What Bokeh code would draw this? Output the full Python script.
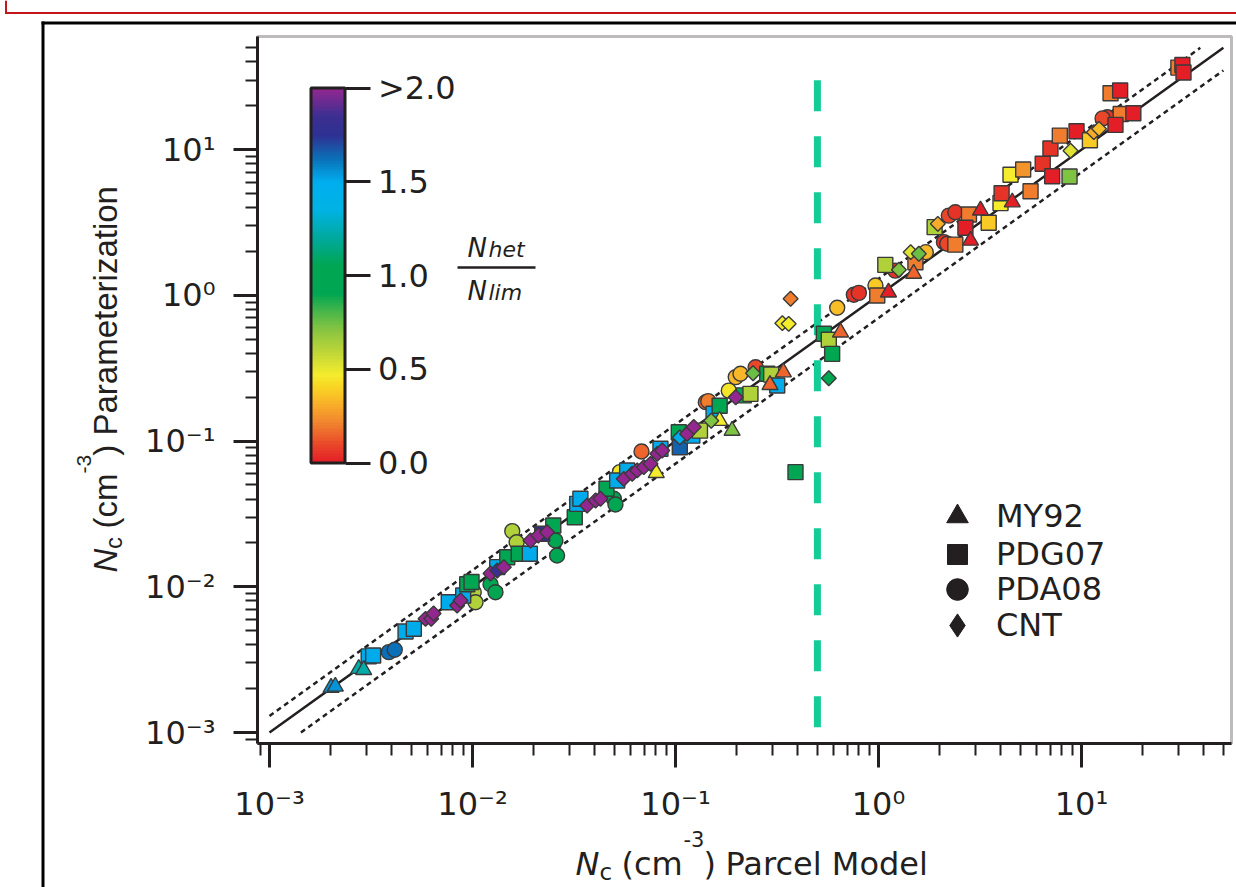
import math
from bokeh.plotting import figure
from bokeh.models import (Range1d, FixedTicker, CustomJSTickFormatter, ColumnDataSource,
                          LinearColorMapper, ColorBar, Legend, LegendItem, Label, BoxAnnotation,
                          LogAxis)
from bokeh.embed import file_html
from bokeh.resources import INLINE

# ---------------- data (Nc parcel model, Nc parameterization, Nhet/Nlim) ----------------
my92_x = [0.00201, 0.00211, 0.00275, 0.00291, 0.0804, 0.165, 0.190, 0.292, 0.340, 0.650,
          1.12, 1.49, 2.84, 3.18, 4.56]
my92_y = [0.00203, 0.00207, 0.00274, 0.00269, 0.0605, 0.138, 0.118, 0.243, 0.297, 0.558,
          1.05, 1.41, 2.38, 3.83, 4.36]
my92_r = [1.55, 1.55, 1.22, 1.22, 0.47, 0.47, 0.72, 0.15, 0.15, 0.15,
          0.0, 0.15, 0.0, 0.0, 0.0]

pdg07_x = [0.00308, 0.00324, 0.00468, 0.00514, 0.00764, 0.00900, 0.00942, 0.00989, 0.01324, 0.01483,
           0.0169, 0.01916, 0.02205, 0.0250, 0.0319, 0.0328, 0.0340, 0.0457, 0.0516, 0.0578,
           0.0843, 0.105, 0.1038, 0.121, 0.132, 0.154, 0.165, 0.217, 0.234, 0.283,
           0.296, 0.317, 0.390, 0.538, 0.569, 0.591, 0.986, 1.08, 1.52, 2.39,
           1.89, 2.79, 2.68, 3.49, 3.99, 4.04, 5.61, 4.47, 5.16, 6.44,
           7.17, 8.73, 7.03, 7.82, 9.45, 11.0, 15.6, 14.7, 18.0, 13.9,
           15.5, 30.0, 31.4, 31.8]
pdg07_y = [0.00333, 0.00338, 0.00493, 0.00515, 0.00784, 0.00871, 0.0104, 0.0108, 0.01364, 0.01597,
           0.01685, 0.01685, 0.0231, 0.02635, 0.0300, 0.0371, 0.0402, 0.0471, 0.0537, 0.0629,
           0.0886, 0.0908, 0.115, 0.109, 0.118, 0.154, 0.175, 0.206, 0.211, 0.290,
           0.286, 0.241, 0.0612, 0.545, 0.496, 0.397, 0.998, 1.62, 1.69, 2.23,
           2.94, 3.59, 2.91, 3.15, 4.30, 5.03, 5.19, 6.73, 7.31, 8.0,
           6.58, 6.55, 10.2, 12.5, 13.4, 11.6, 17.6, 14.8, 17.8, 24.4,
           25.5, 36.6, 38.1, 33.9]
pdg07_r = [1.5, 1.5, 1.5, 1.5, 1.5, 1.5, 1.0, 1.0, 1.5, 1.0,
           1.0, 1.5, 1.78, 1.0, 1.0, 1.5, 1.5, 1.0, 1.5, 1.5,
           1.5, 1.65, 1.0, 1.5, 0.62, 1.5, 1.0, 1.0, 0.62, 1.0,
           0.62, 1.5, 1.0, 1.0, 0.62, 0.95, 0.2, 0.62, 0.2, 0.2,
           0.62, 0.2, 0.0, 0.38, 0.47, 0.05, 0.2, 0.47, 0.25, 0.05,
           0.0, 0.72, 0.05, 0.2, 0.0, 0.38, 0.2, 0.0, 0.0, 0.2,
           0.0, 0.2, 0.0, 0.0]

pda08_x = [0.00387, 0.00414, 0.01014, 0.01035, 0.01227, 0.01298, 0.0157, 0.0165, 0.0256, 0.0261,
           0.0497, 0.0506, 0.0532, 0.0680, 0.141, 0.145, 0.183, 0.198, 0.209, 0.248,
           0.626, 0.756, 0.80, 0.966, 1.21, 1.71, 2.10, 2.18, 2.22, 2.39,
           13.4, 12.7]
pda08_y = [0.00356, 0.0037, 0.00918, 0.00784, 0.0104, 0.00918, 0.0241, 0.0202, 0.0208, 0.0164,
           0.0402, 0.0367, 0.0612, 0.0849, 0.185, 0.188, 0.222, 0.275, 0.290, 0.321,
           0.822, 1.01, 1.04, 1.17, 1.48, 1.98, 2.32, 2.26, 3.53, 3.72,
           16.7, 16.4]
pda08_r = [1.62, 1.62, 0.62, 0.62, 0.92, 0.92, 0.62, 0.62, 0.9, 0.9,
           0.95, 0.95, 0.45, 0.15, 0.15, 0.2, 0.45, 0.33, 0.33, 0.1,
           0.35, 0.05, 0.05, 0.38, 0.05, 0.33, 0.05, 0.1, 0.1, 0.05,
           0.05, 0.1]

cnt_x = [0.00587, 0.00626, 0.00643, 0.0084, 0.00873, 0.01227, 0.01324, 0.01426, 0.0193, 0.0211,
         0.0233, 0.0367, 0.0404, 0.0427, 0.0556, 0.0612, 0.0648, 0.0698, 0.0753, 0.0813,
         0.0860, 0.105, 0.114, 0.123, 0.150, 0.198, 0.241, 0.369, 0.336, 0.361,
         0.569, 1.26, 1.44, 1.58, 1.96, 8.83, 11.5, 12.2]
cnt_y = [0.00603, 0.00603, 0.00656, 0.00744, 0.00805, 0.01234, 0.01294, 0.01364, 0.0208, 0.0225,
         0.0237, 0.0361, 0.0391, 0.0402, 0.0551, 0.0597, 0.0629, 0.0662, 0.0698, 0.0818,
         0.0862, 0.106, 0.112, 0.125, 0.138, 0.200, 0.292, 0.948, 0.645, 0.638,
         0.270, 1.50, 1.98, 1.93, 3.10, 9.83, 13.2, 13.9]
cnt_r = [2.0, 2.0, 2.0, 2.0, 2.0, 2.0, 1.85, 2.0, 2.0, 2.0,
         2.0, 2.0, 2.0, 2.0, 2.0, 2.0, 2.0, 2.0, 2.0, 2.0,
         2.0, 1.5, 2.0, 2.0, 0.72, 2.0, 0.75, 0.2, 0.47, 0.47,
         0.92, 0.72, 0.52, 0.75, 0.3, 0.52, 0.3, 0.35]

scheme_names = ["MY92", "PDG07", "PDA08", "CNT"]
decade_ticks = [1e-3, 1e-2, 1e-1, 1e0, 1e1]
cbar_ticks = [0.0, 0.5, 1.0, 1.5, 2.0]

# plotted box (axis extents)
x_box = (8.727e-4, 54.8)
y_box = (8.405e-4, 59.8)

# reference lines: 1:1 and +/-30 %
line_min, line_max = 1e-3, 50.0
upper_factor, lower_factor = 1.3, 0.7
threshold_x = 0.5
threshold_y = [30.0, 1.07e-3]

# ---------------- style ----------------
FONT = "DejaVu Sans"
VFONT = "Liberation Sans"
INK = "#231f20"
W, H = 1236, 887
anchors = [(0.00, "#e31e26"), (0.10, "#ea4a2a"), (0.20, "#f07f2e"), (0.30, "#f8ab2a"),
           (0.40, "#f9d423"), (0.47, "#f4ec2d"), (0.60, "#b9d439"), (0.70, "#8bc640"),
           (0.80, "#4db74a"), (0.90, "#00a651"), (1.05, "#00a651"), (1.20, "#00a99d"),
           (1.35, "#00b3e3"), (1.50, "#00aeef"), (1.62, "#0a72b8"), (1.75, "#2e3192"),
           (1.85, "#3b2f91"), (2.00, "#93278f")]


def _rgb(h):
    return tuple(int(h[i:i + 2], 16) for i in (1, 3, 5))


palette = []
for i in range(256):
    v = 2.0 * i / 255
    for (a, ca), (b, cb) in zip(anchors[:-1], anchors[1:]):
        if a <= v <= b:
            t = (v - a) / (b - a) if b > a else 0
            r1, r2 = _rgb(ca), _rgb(cb)
            palette.append("#%02x%02x%02x" % tuple(int(round(r1[k] + (r2[k] - r1[k]) * t)) for k in range(3)))
            break

mapper = LinearColorMapper(palette=palette, low=0, high=2)

# ---------------- figure: frame spans the whole canvas, axes sit at fixed locations ----------------
p = figure(width=W, height=H, x_axis_type="log", y_axis_type="log",
           x_range=Range1d(10 ** -4.3251, 10 ** 1.7635), y_range=Range1d(10 ** -4.0638, 10 ** 2.0240),
           x_axis_location=None, y_axis_location=None,
           output_backend="svg", toolbar_location=None,
           min_border=0, min_border_left=0, min_border_right=0, min_border_top=0, min_border_bottom=0)
p.title.visible = False
p.grid.visible = False
p.outline_line_color = None
p.background_fill_color = "white"
p.border_fill_color = "white"

minor = [m * 10.0 ** e for e in range(-4, 2) for m in range(2, 10)]
sup_code = """
const sup = {"-": "\u207b", "0": "\u2070", "1": "\u00b9", "2": "\u00b2", "3": "\u00b3",
             "4": "\u2074", "5": "\u2075", "6": "\u2076", "7": "\u2077", "8": "\u2078", "9": "\u2079"};
const e = Math.round(Math.log10(tick));
return "10" + String(e).split("").map(c => sup[c]).join("");
"""
xaxis = LogAxis(fixed_location=y_box[0], bounds=x_box)
yaxis = LogAxis(fixed_location=x_box[0], bounds=y_box)
for ax, (lo, hi) in ((xaxis, x_box), (yaxis, y_box)):
    ax.ticker = FixedTicker(ticks=decade_ticks, minor_ticks=[m for m in minor if lo < m < hi])
    ax.formatter = CustomJSTickFormatter(code=sup_code)
    ax.major_tick_in = 0
    ax.major_tick_out = 24
    ax.minor_tick_in = 0
    ax.minor_tick_out = 12
    ax.major_tick_line_width = 3
    ax.minor_tick_line_width = 2
    ax.major_tick_line_color = INK
    ax.minor_tick_line_color = INK
    ax.axis_line_color = INK
    ax.axis_line_width = 3
    ax.major_label_text_font = FONT
    ax.major_label_text_font_size = "32px"
    ax.major_label_text_color = INK
    ax.major_label_standoff = 18
p.add_layout(xaxis, "below")
p.add_layout(yaxis, "left")

# plot box outline
p.add_layout(BoxAnnotation(left=257, right=1231, bottom=H - 743, top=H - 36,
                           left_units="screen", right_units="screen", bottom_units="screen",
                           top_units="screen", fill_alpha=0, line_color=INK, line_width=3))

# reference lines
p.line([line_min, line_max], [line_min, line_max], line_color=INK, line_width=2.5)
p.line([line_min, line_max / upper_factor], [line_min * upper_factor, line_max],
       line_color=INK, line_width=2.5, line_dash="5 4")
p.line([line_min / lower_factor, line_max], [line_min, line_max * lower_factor],
       line_color=INK, line_width=2.5, line_dash="5 4")
p.line([threshold_x, threshold_x], threshold_y, line_color="#14cc96", line_width=7,
       line_dash="31 25")

# scatter points
common = dict(line_color="#3a3a3a", line_width=1.4, fill_alpha=1)
p.scatter("x", "y", source=ColumnDataSource(dict(x=pda08_x, y=pda08_y, r=pda08_r)),
          marker="circle", size=15, fill_color={"field": "r", "transform": mapper}, **common)
p.scatter("x", "y", source=ColumnDataSource(dict(x=pdg07_x, y=pdg07_y, r=pdg07_r)),
          marker="square", size=15, fill_color={"field": "r", "transform": mapper}, **common)
p.scatter("x", "y", source=ColumnDataSource(dict(x=my92_x, y=my92_y, r=my92_r)),
          marker="triangle", size=16, fill_color={"field": "r", "transform": mapper}, **common)
p.scatter("x", "y", source=ColumnDataSource(dict(x=cnt_x, y=cnt_y, r=cnt_r)),
          marker="square", angle=math.pi / 4, size=10.5,
          fill_color={"field": "r", "transform": mapper}, **common)

# legend (black symbols); glyph box G -> marker size 0.4*G
legend_specs = [("triangle", 54, 516), ("square", 50, 554),
                ("circle", 54, 589), ("diamond", 58, 625)]
nan = float("nan")
for name, (mk, G, cy) in zip(scheme_names, legend_specs):
    r = p.scatter(x=[nan], y=[nan], marker=mk, fill_color=INK, line_color=INK)
    lg = Legend(items=[LegendItem(label=name, renderers=[r])],
                location=(957 - G // 2, H - (cy + G // 2)),
                glyph_width=G, glyph_height=G, label_standoff=39 - G // 2,
                padding=0, margin=0, spacing=0, border_line_color=None,
                background_fill_alpha=0, label_text_font=FONT,
                label_text_font_size="32px", label_text_color=INK)
    p.add_layout(lg)

# colour bar
cb = ColorBar(color_mapper=mapper, orientation="vertical", location=(310.5, H - 462.5),
              width=34, height=375, padding=0, margin=0,
              ticker=FixedTicker(ticks=cbar_ticks),
              formatter=CustomJSTickFormatter(code="return tick >= 2 ? '>2.0' : tick.toFixed(1);"),
              major_tick_in=0, major_tick_out=25, major_tick_line_color=INK,
              major_tick_line_width=3, minor_tick_line_color=None,
              bar_line_color=INK, bar_line_width=3, border_line_color=None,
              background_fill_alpha=0, major_label_text_font=FONT,
              major_label_text_font_size="32px", major_label_text_color=INK,
              label_standoff=8)
p.add_layout(cb)

SHIFT = 0.35  # rendered baseline lies this many em below the label anchor


def txt(text, x, y, size, italic=False, angle=0.0, font=FONT):
    """x, y: page pixels (from top-left) of the text baseline start."""
    if angle:
        x = x - SHIFT * size
    else:
        y = y - SHIFT * size
    p.add_layout(Label(x=x, y=H - y, x_units="screen", y_units="screen", text=text,
                       text_font=font, text_font_size="%dpx" % size, text_color=INK,
                       text_font_style="italic" if italic else "normal",
                       text_baseline="alphabetic", text_align="left", angle=angle))


# colour-bar title  N_het / N_lim
txt("N", 467, 257, 26, italic=True)
txt("het", 488, 257, 22, italic=True)
txt("N", 467, 300, 26, italic=True)
txt("lim", 488, 300, 22, italic=True)
p.add_layout(BoxAnnotation(left=457, right=535, bottom=H - 268.2, top=H - 265.8,
                           left_units="screen", right_units="screen", bottom_units="screen",
                           top_units="screen", fill_color=INK, fill_alpha=1, line_color=None))

# x-axis title
xb = 875
txt("N", 575, xb, 32, italic=True)
txt("c", 599, xb + 5, 23)
txt("(cm", 621, xb, 32)
txt("-3", 683, xb - 29, 21)
txt(")", 703, xb, 32)
txt("Parcel Model", 725, xb, 32)

# y-axis title (rotated)
A = math.pi / 2
yb = 117
txt("N", yb, 572, 33, italic=True, angle=A, font=VFONT)
txt("c", yb + 4, 548.5, 24, angle=A, font=VFONT)
txt("(cm", yb, 528, 33, angle=A, font=VFONT)
txt("-3", yb - 26, 473, 21, angle=A, font=VFONT)
txt(")", yb, 455.2, 33, angle=A, font=VFONT)
txt("Parameterization", yb, 435, 33, angle=A, font=VFONT)

# slide frame lines (page pixels: left, right, top, bottom)
for l, r_, t, b, c in ((5, W, 11.5, 13.5, "#c4161c"),
                       (4.5, 6.5, 0, 13.5, "#c4161c"),
                       (41, W, 21, 24, "#000000"),
                       (41, 44, 21, H, "#000000")):
    p.add_layout(BoxAnnotation(left=l, right=r_, bottom=H - b, top=H - t, left_units="screen",
                               right_units="screen", bottom_units="screen", top_units="screen",
                               fill_color=c, fill_alpha=1, line_color=None))

open("out.html", "w", encoding="utf-8").write(file_html(p, INLINE))
